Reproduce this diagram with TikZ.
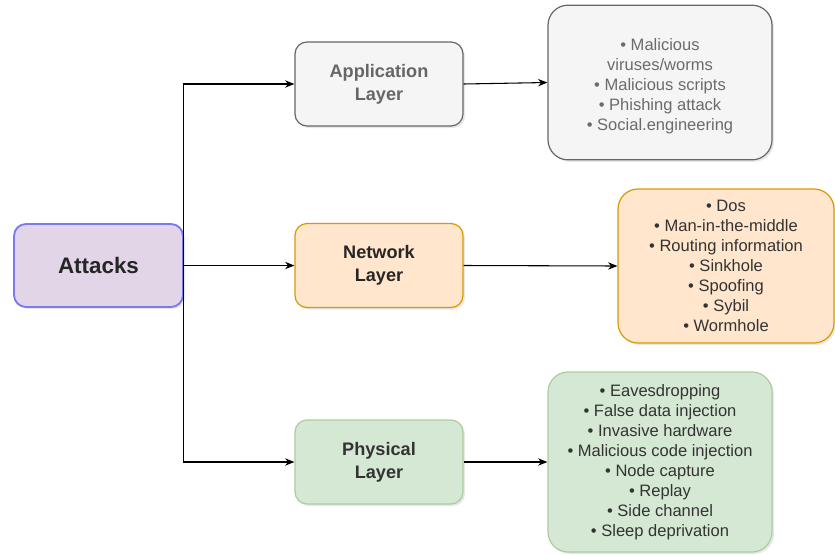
\documentclass[tikz,border=0pt]{standalone}
\usepackage{fontspec}
\setmainfont{Liberation Sans}
\usetikzlibrary{arrows.meta,shadows}
\definecolor{rootfill}{HTML}{E1D5E7}
\definecolor{rootdraw}{HTML}{7B7BEB}
\definecolor{greyfill}{HTML}{F5F5F5}
\definecolor{greydraw}{HTML}{666666}
\definecolor{orangefill}{HTML}{FFE6CC}
\definecolor{orangedraw}{HTML}{D79B00}
\definecolor{greenfill}{HTML}{D5E8D4}
\definecolor{greendraw}{HTML}{82B366}
\tikzset{
  box/.style={rectangle, rounded corners=9pt, line width=0.9pt, align=center,
    inner sep=0pt, drop shadow={opacity=0.18, shadow xshift=1.5pt, shadow yshift=-1.5pt}},
  layer/.style={box, minimum width=126pt, minimum height=63pt,
    font=\fontsize{13.6}{17.3}\selectfont\bfseries},
  list/.style={box, rounded corners=15pt, font=\fontsize{12.4}{15}\selectfont},
  listtext/.style={align=center, inner sep=0pt, font=\fontsize{12.4}{15}\selectfont},
  conn/.style={-{Stealth[length=7pt,width=5.5pt]}, line width=0.8pt, black},
}
\begin{document}
\begin{tikzpicture}[x=0.75pt,y=-0.75pt]
  \useasboundingbox (0,0) rectangle (835,554);
  % root node
  \node[box, fill=rootfill, draw=rootdraw, line width=1.4pt, minimum width=126.75pt,
        minimum height=62.25pt, font=\fontsize{16.8}{20}\selectfont\bfseries,
        text=black!85] (attacks) at (98.5,265.5) {Attacks};
  % layers
  \node[layer, fill=greyfill, draw=greydraw, text=greydraw] (app) at (379,84) {Application\\Layer};
  \node[layer, fill=orangefill, draw=orangedraw, text=black!85] (net) at (379,265.5) {Network\\Layer};
  \node[layer, fill=greenfill, draw=greenfill!50!greendraw, text=black!80] (phy) at (379,462) {Physical\\Layer};
  % attack lists
  \node[list, fill=greyfill, draw=greydraw, minimum width=168pt,
        minimum height=116pt,
        label={[listtext, text=black!58, yshift=-2.5pt]center:{• Malicious\\viruses/worms\\• Malicious scripts\\• Phishing attack\\• Social.engineering}}]
        (applist) at (660,82.5) {};
  \node[list, fill=orangefill, draw=orangedraw, text=black!80, minimum width=162pt,
        minimum height=115.5pt] (netlist) at (726,266)
    {• Dos\\• Man-in-the-middle\\• Routing information\\• Sinkhole\\• Spoofing\\• Sybil\\• Wormhole};
  \node[list, fill=greenfill, draw=greenfill!50!greendraw, text=black!80, minimum width=168pt,
        minimum height=135pt] (phylist) at (660,462)
    {• Eavesdropping\\• False data injection\\• Invasive hardware\\• Malicious code injection\\• Node capture\\• Replay\\• Side channel\\• Sleep deprivation};
  % connectors
  \draw[conn] (attacks.east) -- (net.west);
  \draw[conn] (attacks.east) |- (app.west);
  \draw[conn] (attacks.east) |- (phy.west);
  \draw[conn] (app.east) -- (applist.west);
  \draw[conn] (net.east) -- (netlist.west);
  \draw[conn] (phy.east) -- (phylist.west);
\end{tikzpicture}
\end{document}
